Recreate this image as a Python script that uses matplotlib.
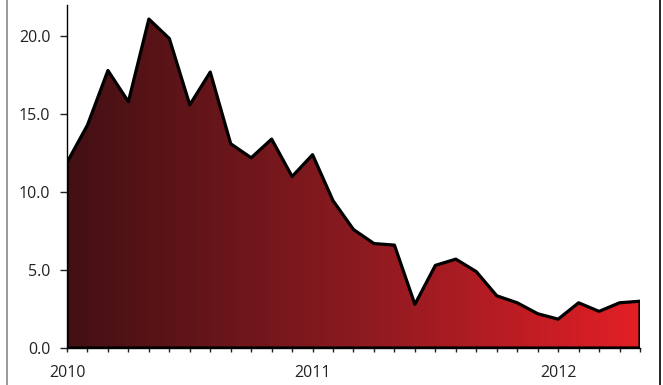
import numpy as np
import matplotlib.pyplot as plt
from matplotlib.colors import LinearSegmentedColormap
from matplotlib.lines import Line2D

# monthly values, Jan 2010 .. May 2012
values = [11.9, 14.3, 17.8, 15.8, 21.1, 19.85, 15.6, 17.7,
          13.1, 12.2, 13.4, 11.0, 12.4, 9.45, 7.6, 6.7, 6.6, 2.8,
          5.3, 5.7, 4.9, 3.35, 2.9, 2.2, 1.85, 2.9, 2.35, 2.9, 3.0]
year_labels = ["2010", "2011", "2012"]
y_ticks = [0, 5, 10, 15, 20]

months = np.arange(len(values))

plt.rcParams["font.family"] = ["Open Sans", "DejaVu Sans"]

fig = plt.figure(figsize=(6.63, 3.85), dpi=100)
ax = fig.add_axes([67 / 663, 37 / 385, 573 / 663, 343 / 385])

# area with black outline
poly = ax.fill_between(months, 0, values, facecolor="none",
                       edgecolor="black", linewidth=2.3, zorder=3)

# horizontal gradient clipped to the area
cmap = LinearSegmentedColormap.from_list("reds", ["#421013", "#8a1a20", "#e31f26"])
grad = np.linspace(0, 1, 256).reshape(1, -1)
img = ax.imshow(grad, cmap=cmap, aspect="auto",
                extent=[0, len(values) - 1, 0, max(values)], zorder=2)
img.set_clip_path(poly.get_paths()[0], transform=ax.transData)

ax.set_xlim(0, len(values) - 1)
ax.set_ylim(0, 22)

ax.set_xticks([0, 12, 24])
ax.set_xticklabels(year_labels)
ax.set_xticks(months, minor=True)
ax.set_yticks(y_ticks)
ax.set_yticklabels([f"{v:.1f}" for v in y_ticks])

ax.tick_params(axis="x", which="both", length=3, width=1, pad=9,
               labelsize=11.5, colors="#222222")
ax.tick_params(axis="y", length=5, width=1, pad=7, labelsize=11.5,
               colors="#222222")

ax.spines["top"].set_visible(False)
ax.spines["right"].set_visible(False)
ax.spines["left"].set_linewidth(1)
ax.spines["bottom"].set_linewidth(1)

# frame lines at the image edges
fig.add_artist(Line2D([6.5 / 663, 6.5 / 663], [0, 1], color="#888888", linewidth=1.2))
fig.add_artist(Line2D([659.5 / 663, 659.5 / 663], [0, 1], color="black", linewidth=1.2))

fig.savefig("out.png", dpi=100)
